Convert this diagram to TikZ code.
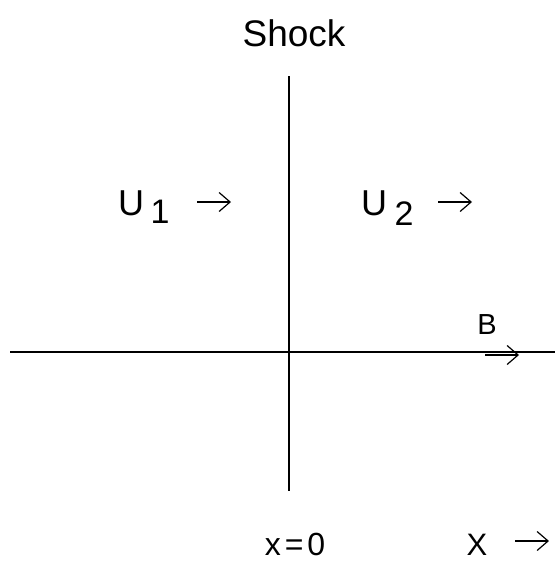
\documentclass[tikz,border=0pt]{standalone}
\usepackage{fontspec}
\setmainfont{Liberation Sans}
\usetikzlibrary{arrows.meta}
\begin{document}
\begin{tikzpicture}[x=1pt,y=-1pt,
  ln/.style={line width=1.2pt},
  arr/.style={line width=1.2pt,-{Straight Barb[length=11pt,width=19pt,line width=1.2pt]}},
  lbl/.style={inner sep=0pt,anchor=base}]
\useasboundingbox (0,0) rectangle (555,562);
% axes
\coordinate (vt) at (289,76);
\coordinate (vb) at (289,491);
\coordinate (hl) at (10,352);
\coordinate (hr) at (555,352);
\draw[ln] (vt) -- (vb);
\draw[ln] (hl) -- (hr);
% labels
\node[lbl,font=\fontsize{37}{42}\selectfont] (shock) at (294,46) {Shock};
\node[lbl,font=\fontsize{36}{42}\selectfont] (u1) at (131,215) {U};
\node[lbl,font=\fontsize{34}{38}\selectfont] (s1) at (160,223) {1};
\node[lbl,font=\fontsize{36}{42}\selectfont] (u2) at (374,215) {U};
\node[lbl,font=\fontsize{34}{38}\selectfont] (s2) at (404,225) {2};
\node[lbl,font=\fontsize{29}{32}\selectfont] (b) at (487,334) {B};
\node[lbl,font=\fontsize{32}{36}\selectfont] (x0) at (295,555) {x\hspace{4pt}=\hspace{4pt}0};
\node[lbl,font=\fontsize{31}{36}\selectfont] (xx) at (477,555) {X};
% arrows
\coordinate (a1s) at (197,202); \coordinate (a1e) at (231,202);
\coordinate (a2s) at (438,202); \coordinate (a2e) at (472,202);
\coordinate (abs) at (485,355); \coordinate (abe) at (519,355);
\coordinate (axs) at (515,541); \coordinate (axe) at (549,541);
\draw[arr] (a1s) -- (a1e);
\draw[arr] (a2s) -- (a2e);
\draw[arr] (abs) -- (abe);
\draw[arr] (axs) -- (axe);
\end{tikzpicture}
\end{document}
